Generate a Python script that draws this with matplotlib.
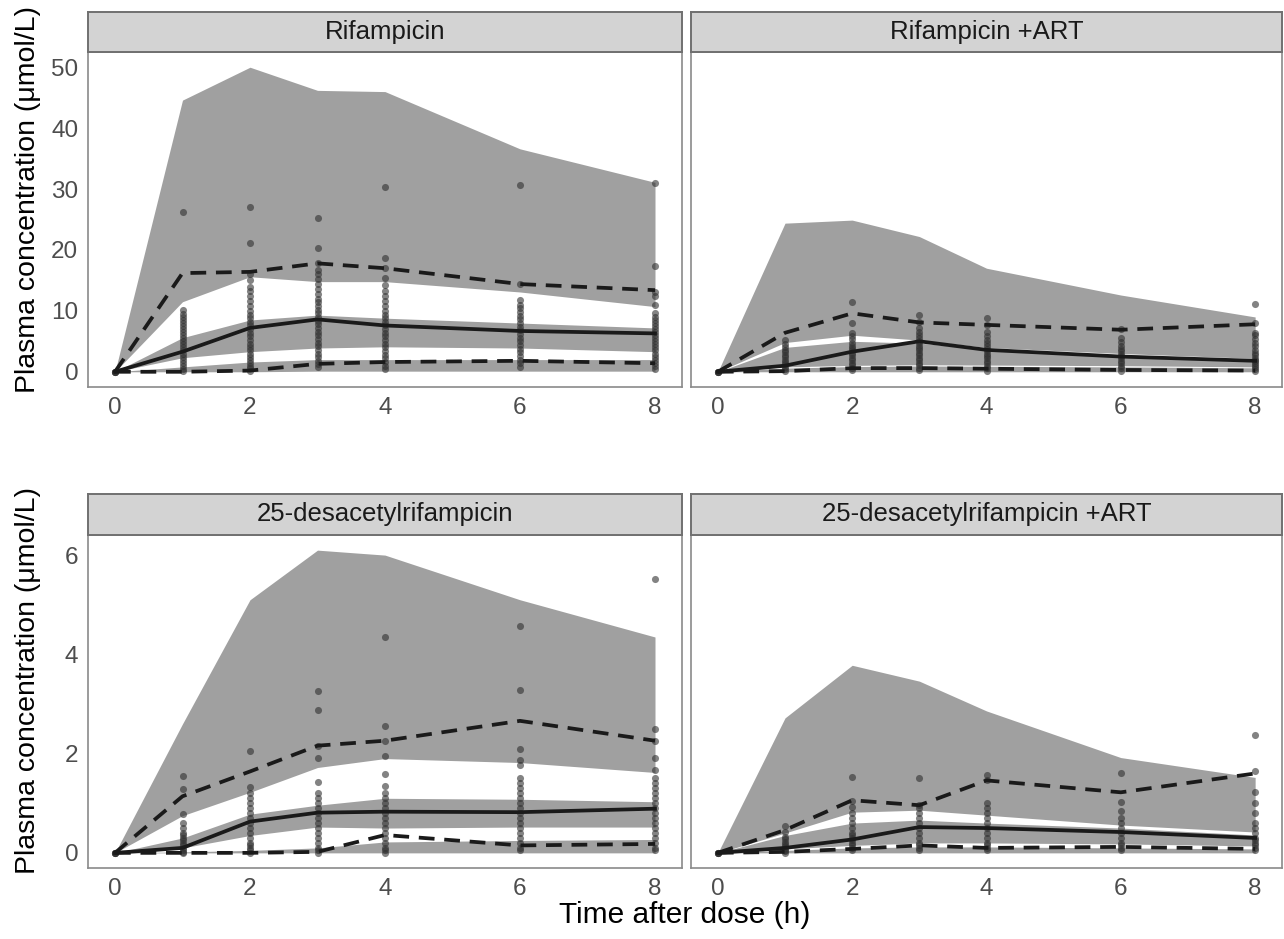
import matplotlib.pyplot as plt
import numpy as np

plt.rcParams['font.family'] = ['Liberation Sans', 'DejaVu Sans']

times = [0, 1, 2, 3, 4, 6, 8]
titles = ['Rifampicin', 'Rifampicin +ART', '25-desacetylrifampicin', '25-desacetylrifampicin +ART']

# simulated 95% CI of the 95th percentile (upper / lower edge)
hi_top = [[0, 44.6, 50.0, 46.2, 46.0, 36.6, 31.1],
          [0, 24.4, 24.9, 22.2, 17.0, 12.6, 9.0],
          [0, 2.6, 5.1, 6.1, 6.0, 5.1, 4.35],
          [0, 2.72, 3.78, 3.46, 2.86, 1.92, 1.52]]
hi_bot = [[0, 11.5, 15.6, 14.8, 14.8, 13.1, 10.7],
          [0, 4.8, 6.0, 5.2, 4.0, 3.0, 2.2],
          [0, 0.75, 1.22, 1.72, 1.9, 1.82, 1.62],
          [0, 0.4, 0.82, 0.86, 0.76, 0.56, 0.42]]
# simulated 95% CI of the median
med_top = [[0, 5.6, 8.5, 9.3, 8.8, 8.0, 7.2],
           [0, 4.0, 5.0, 4.7, 3.7, 2.8, 2.0],
           [0, 0.3, 0.78, 0.96, 1.1, 1.08, 1.03],
           [0, 0.35, 0.6, 0.66, 0.6, 0.5, 0.36]]
med_bot = [[0, 2.3, 3.3, 3.9, 4.1, 3.9, 3.3],
           [0, 0.8, 1.05, 1.15, 1.1, 1.0, 0.8],
           [0, 0.1, 0.35, 0.52, 0.5, 0.52, 0.52],
           [0, 0.08, 0.15, 0.2, 0.2, 0.18, 0.14]]
# simulated 95% CI of the 5th percentile
lo_top = [[0, 0.8, 1.6, 2.0, 2.0, 2.0, 2.0],
          [0, 0.6, 0.85, 0.95, 0.9, 0.8, 0.65],
          [0, 0.02, 0.05, 0.1, 0.22, 0.25, 0.27],
          [0, 0.05, 0.1, 0.12, 0.12, 0.1, 0.08]]
lo_bot = [[0, 0, 0, 0.1, 0.1, 0.1, 0.1],
          [0, 0, 0, 0, 0, 0, 0],
          [0, 0, 0, 0, 0, 0, 0],
          [0, 0, 0, 0, 0, 0, 0]]

# observed percentiles
obs_med = [[0, 3.3, 7.2, 8.6, 7.6, 6.7, 6.3],
           [0, 1.0, 3.3, 5.0, 3.6, 2.5, 1.8],
           [0, 0.1, 0.63, 0.81, 0.83, 0.82, 0.89],
           [0, 0.1, 0.27, 0.52, 0.5, 0.42, 0.3]]
obs_hi = [[0, 16.2, 16.4, 17.8, 17.0, 14.4, 13.4],
          [0, 6.4, 9.6, 8.1, 7.7, 6.9, 7.8],
          [0, 1.14, 1.64, 2.16, 2.26, 2.66, 2.26],
          [0, 0.46, 1.06, 0.96, 1.46, 1.22, 1.6]]
obs_lo = [[0, 0, 0.2, 1.3, 1.6, 1.8, 1.4],
          [0, 0.1, 0.6, 0.6, 0.5, 0.3, 0.2],
          [0, 0, 0, 0.02, 0.36, 0.15, 0.18],
          [0, 0.02, 0.08, 0.15, 0.1, 0.12, 0.08]]

# observed concentrations, one list per time point
obs_points = [
    [[0, 0, 0, 0],
     [0.1, 0.5, 1.0, 1.5, 2.0, 2.5, 3.0, 3.5, 4.0, 4.5, 5.0, 5.5, 6.0, 6.5, 7.0, 7.5, 8.0, 8.5, 9.0, 9.5, 10.2, 26.2],
     [0.2, 0.6, 1.0, 1.5, 2.0, 2.5, 3.0, 3.5, 4.0, 4.6, 5.2, 5.8, 6.4, 7.0, 7.6, 8.2, 8.8, 9.4, 10.0, 10.8, 11.6, 12.4, 13.2, 14.0, 15.0, 16.0, 21.2, 27.0],
     [0.8, 1.2, 1.8, 2.4, 3.0, 3.6, 4.2, 4.8, 5.4, 6.0, 6.6, 7.2, 7.8, 8.4, 9.0, 9.6, 10.2, 10.8, 11.4, 12.0, 12.8, 13.6, 14.4, 15.2, 16.0, 16.7, 17.8, 20.3, 25.3],
     [0.5, 1.0, 1.6, 2.2, 2.8, 3.4, 4.0, 4.6, 5.2, 5.8, 6.4, 7.0, 7.6, 8.2, 8.8, 9.4, 10.0, 10.8, 11.6, 12.4, 13.2, 14.2, 15.4, 17.0, 18.7, 30.4],
     [0.8, 1.4, 2.0, 2.6, 3.2, 3.8, 4.4, 5.0, 5.6, 6.2, 6.8, 7.4, 8.0, 8.6, 9.2, 9.8, 10.4, 11.0, 11.8, 14.4, 30.6],
     [0.5, 1.0, 1.5, 2.0, 2.5, 3.0, 3.5, 4.0, 4.5, 5.0, 5.5, 6.0, 6.5, 7.0, 7.5, 8.0, 8.5, 9.0, 9.6, 11.0, 12.5, 13.1, 17.4, 31.0]],
    [[0, 0, 0, 0],
     [0.1, 0.4, 0.8, 1.2, 1.6, 2.0, 2.4, 2.8, 3.2, 3.6, 4.0, 4.5, 5.2],
     [0.3, 0.7, 1.1, 1.5, 1.9, 2.3, 2.7, 3.1, 3.5, 3.9, 4.3, 4.8, 5.3, 5.8, 6.4, 8.0, 11.5],
     [0.3, 0.7, 1.1, 1.5, 1.9, 2.3, 2.7, 3.1, 3.5, 3.9, 4.3, 4.7, 5.1, 5.6, 6.1, 6.6, 7.2, 8.2, 9.3],
     [0.2, 0.6, 1.0, 1.4, 1.8, 2.2, 2.6, 3.0, 3.4, 3.8, 4.2, 4.7, 5.2, 5.8, 6.5, 7.7, 8.8],
     [0.2, 0.6, 1.0, 1.4, 1.8, 2.2, 2.6, 3.0, 3.4, 3.8, 4.3, 4.9, 5.6, 7.0],
     [0.2, 0.5, 0.8, 1.1, 1.4, 1.7, 2.0, 2.3, 2.7, 3.1, 3.6, 4.2, 4.8, 5.4, 6.0, 6.4, 8.0, 11.2]],
    [[0, 0, 0, 0],
     [0, 0.02, 0.05, 0.1, 0.15, 0.2, 0.25, 0.3, 0.35, 0.4, 0.5, 0.6, 0.78, 1.28, 1.54],
     [0, 0.05, 0.1, 0.15, 0.2, 0.3, 0.4, 0.5, 0.6, 0.7, 0.8, 0.9, 1.0, 1.1, 1.2, 1.32, 2.06],
     [0, 0.05, 0.1, 0.2, 0.3, 0.4, 0.5, 0.6, 0.7, 0.8, 0.9, 1.0, 1.1, 1.2, 1.42, 1.92, 2.16, 2.88, 3.26],
     [0, 0.05, 0.1, 0.2, 0.3, 0.4, 0.5, 0.6, 0.7, 0.8, 0.9, 1.0, 1.1, 1.2, 1.35, 1.58, 1.96, 2.26, 2.56, 4.34],
     [0.05, 0.1, 0.2, 0.3, 0.4, 0.5, 0.6, 0.7, 0.8, 0.9, 1.0, 1.1, 1.2, 1.3, 1.4, 1.5, 1.78, 1.88, 2.1, 3.28, 4.58],
     [0.05, 0.1, 0.2, 0.3, 0.4, 0.5, 0.6, 0.7, 0.8, 0.9, 1.0, 1.1, 1.2, 1.3, 1.4, 1.5, 1.66, 1.92, 2.26, 2.5, 5.52]],
    [[0, 0, 0, 0],
     [0, 0.03, 0.06, 0.1, 0.14, 0.18, 0.22, 0.27, 0.32, 0.42, 0.54],
     [0.05, 0.1, 0.15, 0.2, 0.25, 0.3, 0.35, 0.4, 0.5, 0.6, 0.7, 0.8, 0.92, 1.04, 1.52],
     [0.05, 0.1, 0.15, 0.2, 0.3, 0.4, 0.5, 0.6, 0.7, 0.8, 0.9, 0.96, 1.5],
     [0.05, 0.1, 0.15, 0.2, 0.3, 0.4, 0.5, 0.6, 0.7, 0.8, 0.9, 1.0, 1.46, 1.56],
     [0.05, 0.1, 0.15, 0.2, 0.3, 0.4, 0.5, 0.6, 0.7, 0.84, 1.02, 1.6],
     [0.05, 0.1, 0.15, 0.2, 0.25, 0.3, 0.4, 0.5, 0.6, 0.8, 1.0, 1.22, 1.64, 2.38]],
]

yticks = [[0, 10, 20, 30, 40, 50], [0, 2, 4, 6]]
ylims = [(-2.5, 52.5), (-0.305, 6.405)]

W, H = 1284, 939
fig = plt.figure(figsize=(W / 100, H / 100), dpi=100)

# panel boxes in pixels
cols = [(88, 682), (691, 1282)]
rows = [(12, 52, 387), (494, 535, 868)]  # strip top, panel top, panel bottom

band_col = '#a0a0a0'
line_col = '#1a1a1a'
for k in range(4):
    r, c = divmod(k, 2)
    x0, x1 = cols[c]
    st, pt, pb = rows[r]
    ax = fig.add_axes([x0 / W, 1 - pb / H, (x1 - x0) / W, (pb - pt) / H])
    sx = fig.add_axes([x0 / W, 1 - pt / H, (x1 - x0) / W, (pt - st) / H])

    ax.fill_between(times, hi_bot[k], hi_top[k], color=band_col, lw=0, zorder=1)
    ax.fill_between(times, med_bot[k], med_top[k], color=band_col, lw=0, zorder=1)
    ax.fill_between(times, lo_bot[k], lo_top[k], color=band_col, lw=0, zorder=1)

    for t, vals in zip(times, obs_points[k]):
        ax.scatter([t] * len(vals), vals, s=26, color='#303030', alpha=0.6, lw=0, zorder=2)

    ax.plot(times, obs_med[k], color=line_col, lw=2.7, zorder=3)
    ax.plot(times, obs_hi[k], color=line_col, lw=2.7, dashes=(4.2, 2.6), zorder=3)
    ax.plot(times, obs_lo[k], color=line_col, lw=2.7, dashes=(4.2, 2.6), zorder=3)

    ax.set_xlim(-0.4, 8.4)
    ax.set_ylim(*ylims[r])
    ax.set_xticks([0, 2, 4, 6, 8])
    ax.set_yticks(yticks[r])
    ax.tick_params(length=0, labelsize=17.5, colors='#4d4d4d', pad=7)
    if c == 1:
        ax.set_yticklabels([])
    for s in ax.spines.values():
        s.set_color('#8a8a8a')
        s.set_linewidth(1.2)

    sx.set_facecolor('#d3d3d3')
    sx.set_xticks([])
    sx.set_yticks([])
    for s in sx.spines.values():
        s.set_color('#707070')
        s.set_linewidth(1.4)
    sx.text(0.5, 0.5, titles[k], ha='center', va='center', fontsize=18.5,
            color='#1a1a1a', transform=sx.transAxes)

for st, pt, pb in rows:
    fig.text(28 / W, 1 - (st + pb) / 2 / H, 'Plasma concentration (μmol/L)', rotation=90,
             ha='center', va='center', fontsize=20.5, color='black')
fig.text(685 / W, 1 - 915 / H, 'Time after dose (h)', ha='center', va='center',
         fontsize=21.5, color='black')

fig.savefig('out.png', dpi=100)
